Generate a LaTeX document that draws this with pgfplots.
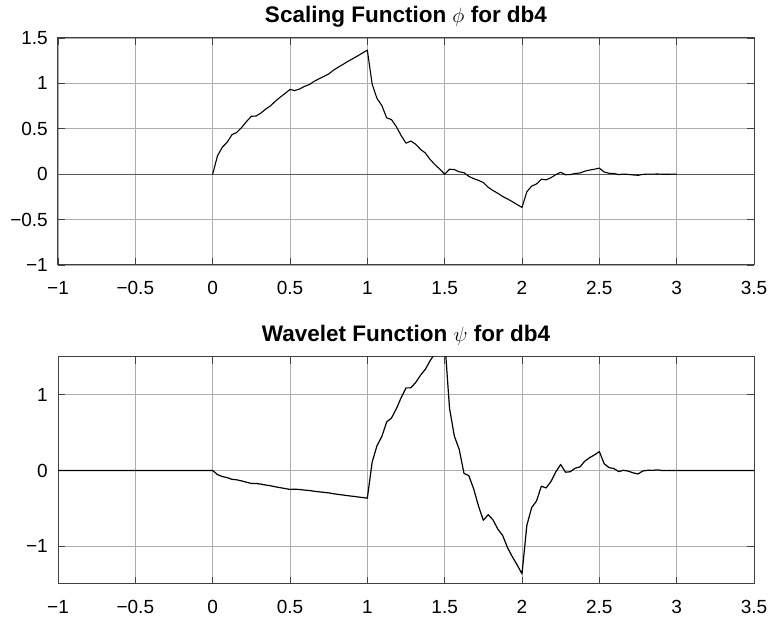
\documentclass[border=0pt]{standalone}
\usepackage{fontspec}
\setmainfont{Liberation Sans}
\usepackage{pgfplots}
\pgfplotsset{compat=1.18}
\definecolor{axgray}{rgb}{0.25,0.25,0.25}
\definecolor{gridgray}{rgb}{0.68,0.68,0.68}
\definecolor{zerogray}{rgb}{0.35,0.35,0.35}
\begin{document}
\begin{tikzpicture}
\path[use as bounding box] (0pt,0pt) rectangle (773pt,620pt);
\pgfplotsset{
  mystyle/.style={
    scale only axis, width=696pt, height=227pt,
    anchor=south west,
    xmin=-1, xmax=3.5,
    xtick={-1,-0.5,0,0.5,1,1.5,2,2.5,3,3.5},
    xticklabels={−1,−0.5,0,0.5,1,1.5,2,2.5,3,3.5},
    grid=major,
    grid style={gridgray, line width=0.8pt},
    axis line style={axgray, line width=1pt},
    tick align=inside,
    major tick length=7pt,
    tick style={axgray, line width=0.8pt},
    xticklabel style={anchor=base, inner sep=0pt, yshift=-30pt, font=\fontsize{19}{22}\selectfont},
    yticklabel style={anchor=east, inner sep=0pt, xshift=-10pt, font=\fontsize{19}{22}\selectfont},
    title style={at={(0.5,1)}, anchor=base, inner sep=0pt, yshift=9pt, font=\fontsize{22.5}{26}\selectfont\bfseries},
    clip=true,
  }
}
\begin{axis}[mystyle, at={(58pt,355pt)},
  ymin=-1, ymax=1.5,
  ytick={-1,-0.5,0,0.5,1,1.5},
  yticklabels={−1,−0.5,0,0.5,1,1.5},
  title={Scaling Function $\phi$ for db4}]
\addplot[zerogray, line width=1pt] coordinates {(-1,0) (3.5,0)};
\addplot[black, line width=1.1pt, line join=round] coordinates {
(0,0) (0.03125,0.20305) (0.0625,0.29729) (0.09375,0.35169)
(0.125,0.43526) (0.15625,0.46051) (0.1875,0.51491) (0.21875,0.57999)
(0.25,0.63726) (0.28125,0.64117) (0.3125,0.67423) (0.34375,0.71796)
(0.375,0.75389) (0.40625,0.80543) (0.4375,0.84917) (0.46875,0.89004)
(0.5,0.93301) (0.53125,0.92129) (0.5625,0.93873) (0.59375,0.96684)
(0.625,0.98714) (0.65625,1.02306) (0.6875,1.05117) (0.71875,1.07642)
(0.75,1.10377) (0.78125,1.14541) (0.8125,1.17924) (0.84375,1.21021)
(0.875,1.24327) (0.90625,1.27215) (0.9375,1.30311) (0.96875,1.33485)
(1,1.36603) (1.03125,0.99118) (1.0625,0.83395) (1.09375,0.75639)
(1.125,0.62051) (1.15625,0.60126) (1.1875,0.52370) (1.21875,0.42479)
(1.25,0.34151) (1.28125,0.36494) (1.3125,0.33007) (1.34375,0.27385)
(1.375,0.23325) (1.40625,0.16141) (1.4375,0.10519) (1.46875,0.05469)
(1.5,0) (1.53125,0.05469) (1.5625,0.05106) (1.59375,0.02609)
(1.625,0.01675) (1.65625,-0.02385) (1.6875,-0.04882) (1.71875,-0.06807)
(1.75,-0.09151) (1.78125,-0.14354) (1.8125,-0.17995) (1.84375,-0.21064)
(1.875,-0.24551) (1.90625,-0.27202) (1.9375,-0.30270) (1.96875,-0.33493)
(2,-0.36603) (2.03125,-0.19423) (2.0625,-0.13124) (2.09375,-0.10808)
(2.125,-0.05577) (2.15625,-0.06177) (2.1875,-0.03861) (2.21875,-0.00478)
(2.25,0.02123) (2.28125,-0.00611) (2.3125,-0.00430) (2.34375,0.00819)
(2.375,0.01286) (2.40625,0.03316) (2.4375,0.04564) (2.46875,0.05527)
(2.5,0.06699) (2.53125,0.02402) (2.5625,0.01021) (2.59375,0.00707)
(2.625,-0.00389) (2.65625,0.00079) (2.6875,-0.00235) (2.71875,-0.00835)
(2.75,-0.01226) (2.78125,-0.00187) (2.8125,0.00071) (2.84375,0.00043)
(2.875,0.00224) (2.90625,-0.00013) (2.9375,-0.00041) (2.96875,0.00008)
(3,0)
};
\end{axis}
\begin{axis}[mystyle, at={(58pt,36pt)},
  ymin=-1.5, ymax=1.5,
  ytick={-1,0,1},
  yticklabels={−1,0,1},
  title={Wavelet Function $\psi$ for db4}]
\addplot[black, line width=1.2pt, line join=round] coordinates {
(-1,0)
(0,0) (0.03125,-0.05441) (0.0625,-0.07966) (0.09375,-0.09424)
(0.125,-0.11663) (0.15625,-0.12339) (0.1875,-0.13797) (0.21875,-0.15541)
(0.25,-0.17075) (0.28125,-0.17180) (0.3125,-0.18066) (0.34375,-0.19238)
(0.375,-0.20200) (0.40625,-0.21582) (0.4375,-0.22753) (0.46875,-0.23849)
(0.5,-0.25) (0.53125,-0.24686) (0.5625,-0.25153) (0.59375,-0.25906)
(0.625,-0.26450) (0.65625,-0.27413) (0.6875,-0.28166) (0.71875,-0.28843)
(0.75,-0.29575) (0.78125,-0.30691) (0.8125,-0.31598) (0.84375,-0.32427)
(0.875,-0.33313) (0.90625,-0.34087) (0.9375,-0.34917) (0.96875,-0.35767)
(1,-0.36603) (1.03125,0.11136) (1.0625,0.32843) (1.09375,0.45021)
(1.125,0.64175) (1.15625,0.69378) (1.1875,0.81556) (1.21875,0.96288)
(1.25,1.09151) (1.28125,1.09248) (1.3125,1.16320) (1.34375,1.25946)
(1.375,1.33702) (1.40625,1.45196) (1.4375,1.54822) (1.46875,1.63763)
(1.5,1.73205) (1.53125,0.82513) (1.5625,0.45447) (1.59375,0.28009)
(1.625,-0.03798) (1.65625,-0.06867) (1.6875,-0.24305) (1.71875,-0.47002)
(1.75,-0.65849) (1.78125,-0.58399) (1.8125,-0.65319) (1.84375,-0.77497)
(1.875,-0.85825) (1.90625,-1.01854) (1.9375,-1.14032) (1.96875,-1.24802)
(2,-1.36603) (2.03125,-0.72486) (2.0625,-0.48979) (2.09375,-0.40337)
(2.125,-0.20813) (2.15625,-0.23052) (2.1875,-0.14410) (2.21875,-0.01785)
(2.25,0.07925) (2.28125,-0.02280) (2.3125,-0.01604) (2.34375,0.03056)
(2.375,0.04800) (2.40625,0.12375) (2.4375,0.17034) (2.46875,0.20627)
(2.5,0.25) (2.53125,0.08964) (2.5625,0.03809) (2.59375,0.02637)
(2.625,-0.01450) (2.65625,0.00293) (2.6875,-0.00878) (2.71875,-0.03117)
(2.75,-0.04575) (2.78125,-0.00697) (2.8125,0.00265) (2.84375,0.00161)
(2.875,0.00837) (2.90625,-0.00049) (2.9375,-0.00153) (2.96875,0.00028)
(3,0) (3.5,0)
};
\end{axis}
\end{tikzpicture}
\end{document}
